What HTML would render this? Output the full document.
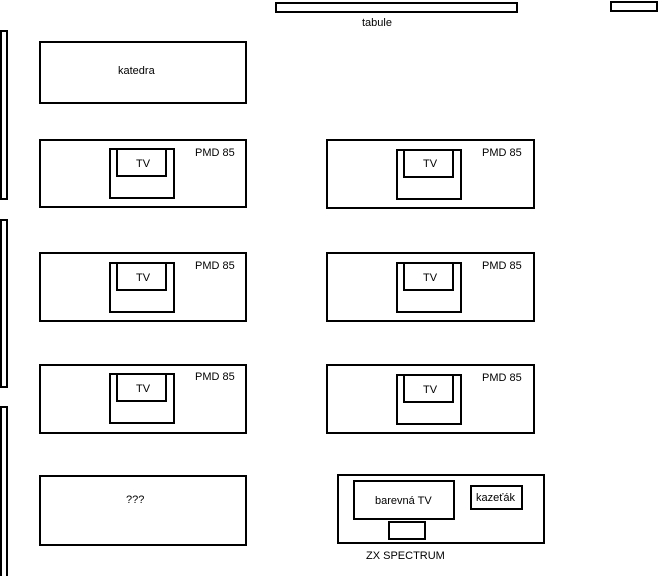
<!DOCTYPE html>
<html><head><meta charset="utf-8"><style>
html,body{margin:0;padding:0;background:#fff;}
svg{display:block}
text{font-family:"Liberation Sans",sans-serif;font-size:11px;fill:#000}
</style></head><body>
<svg width="659" height="576" viewBox="0 0 659 576" fill="none" stroke="#000" stroke-width="2">
<rect x="276" y="3" width="241" height="9"/>
<rect x="611" y="2" width="46" height="9"/>
<rect x="1" y="31" width="6" height="168"/>
<rect x="1" y="220" width="6" height="167"/>
<rect x="1" y="407" width="6" height="170"/>
<rect x="40" y="42" width="206" height="61"/>
<g>
<rect x="40" y="140" width="206" height="67"/>
<rect x="110" y="149" width="64" height="49"/>
<rect x="117" y="149" width="49" height="27"/>
<rect x="40" y="253" width="206" height="68"/>
<rect x="110" y="263" width="64" height="49"/>
<rect x="117" y="263" width="49" height="27"/>
<rect x="40" y="365" width="206" height="68"/>
<rect x="110" y="374" width="64" height="49"/>
<rect x="117" y="374" width="49" height="27"/>
<rect x="40" y="476" width="206" height="69"/>
<rect x="327" y="140" width="207" height="68"/>
<rect x="397" y="150" width="64" height="49"/>
<rect x="404" y="150" width="49" height="27"/>
<rect x="327" y="253" width="207" height="68"/>
<rect x="397" y="263" width="64" height="49"/>
<rect x="404" y="263" width="49" height="27"/>
<rect x="327" y="365" width="207" height="68"/>
<rect x="397" y="375" width="64" height="49"/>
<rect x="404" y="375" width="49" height="27"/>
<rect x="338" y="475" width="206" height="68"/>
<rect x="354" y="481" width="100" height="38"/>
<rect x="389" y="522" width="36" height="17"/>
<rect x="471" y="486" width="51" height="23"/>
</g>
<g stroke="none">
<text x="362" y="26">tabule</text>
<text x="118" y="74">katedra</text>
<text x="195" y="156">PMD 85</text><text x="136" y="167">TV</text>
<text x="195" y="269">PMD 85</text><text x="136" y="281">TV</text>
<text x="195" y="380">PMD 85</text><text x="136" y="392">TV</text>
<text x="482" y="156">PMD 85</text><text x="423" y="167">TV</text>
<text x="482" y="269">PMD 85</text><text x="423" y="281">TV</text>
<text x="482" y="381">PMD 85</text><text x="423" y="393">TV</text>
<text x="126" y="503">???</text>
<text x="375" y="504">barevná TV</text>
<text x="476" y="501">kazeťák</text>
<text x="366" y="559">ZX SPECTRUM</text>
</g>
</svg>
</body></html>
